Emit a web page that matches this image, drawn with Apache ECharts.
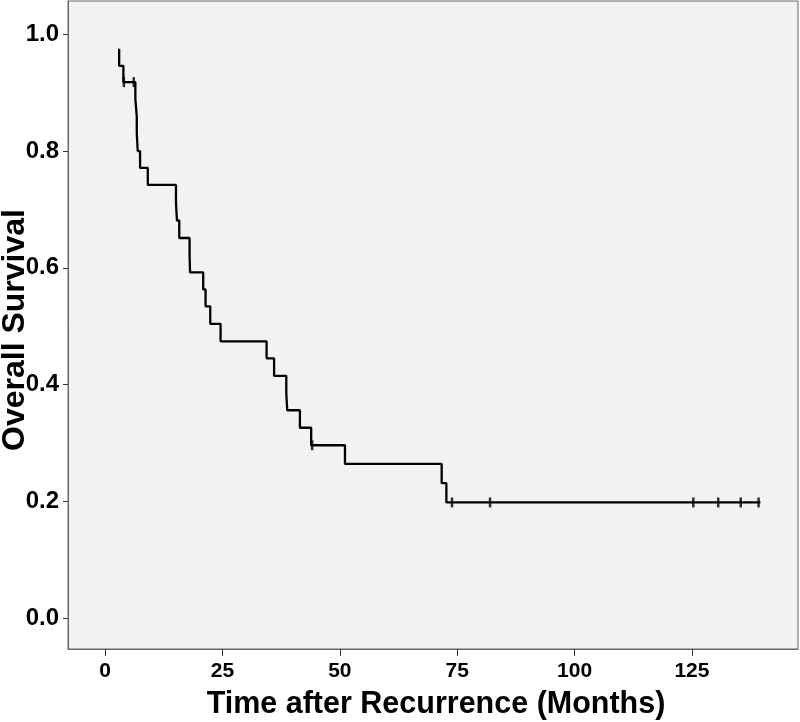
<!DOCTYPE html>
<html>
<head>
<meta charset="utf-8">
<script src="https://cdn.jsdelivr.net/npm/echarts@6/dist/echarts.min.js"></script>
<style>html,body{margin:0;padding:0;background:#fff;}#c{width:800px;height:722px;}</style>
</head>
<body>
<div id="c"></div>
<script>
// Kaplan-Meier curve data
var startTime = 3.0;
var startSurv = 0.975;
var eventTimes = [3.0, 3.9, 6.45, 6.75, 6.75, 6.95, 7.45, 9.1, 15.1, 15.3, 15.8, 18.0, 18.1, 20.9, 21.4, 22.4, 24.6, 34.4, 36.0, 38.6, 38.8, 41.5, 43.9, 51.1, 71.7, 72.7];
var survAfter = [0.946, 0.918, 0.889, 0.859, 0.830, 0.800, 0.771, 0.742, 0.712, 0.681, 0.651, 0.622, 0.592, 0.563, 0.534, 0.504, 0.474, 0.445, 0.415, 0.385, 0.356, 0.326, 0.296, 0.264, 0.231, 0.198];
var endTime = 139.6;
var censorTimes = [4.0, 6.1, 44.1, 73.9, 82.0, 125.3, 130.6, 135.4, 139.2];
var censorSurv = [0.918, 0.918, 0.296, 0.198, 0.198, 0.198, 0.198, 0.198, 0.198];
var xTicks = [0, 25, 50, 75, 100, 125];
var yTicks = [0, 0.2, 0.4, 0.6, 0.8, 1.0];

var stepPts = [[startTime, startSurv]];
var prev = startSurv;
for (var i = 0; i < eventTimes.length; i++) {
  stepPts.push([eventTimes[i], prev]);
  stepPts.push([eventTimes[i], survAfter[i]]);
  prev = survAfter[i];
}
stepPts.push([endTime, prev]);

var censorPts = censorTimes.map(function (t, i) { return [t, censorSurv[i]]; });

var chart = echarts.init(document.getElementById('c'));
chart.setOption({
  animation: false,
  grid: {
    left: 68, right: 2, top: 1, bottom: 73,
    outerBoundsMode: 'none', containLabel: false,
    show: true, backgroundColor: '#f2f2f2', borderColor: '#666', borderWidth: 1
  },
  xAxis: {
    type: 'value', min: -7.9, max: 147.6,
    name: 'Time after Recurrence (Months)', nameLocation: 'middle', nameGap: 40,
    nameTextStyle: { fontFamily: 'Liberation Sans', fontWeight: 'bold', fontSize: 30.5, color: '#000', verticalAlign: 'top', padding: [0, 0, 0, 6] },
    axisLine: { show: true, onZero: false, lineStyle: { color: '#666', width: 1 } },
    axisTick: { show: true, customValues: xTicks, length: 7, lineStyle: { color: '#333' } },
    axisLabel: { customValues: xTicks, margin: 12, fontFamily: 'Liberation Sans Narrow, Liberation Sans', fontWeight: 'bold', fontSize: 21, color: '#000' },
    splitLine: { show: false }
  },
  yAxis: {
    type: 'value', min: -0.053, max: 1.057,
    name: 'Overall Survival', nameLocation: 'middle', nameGap: 37, nameMoveOverlap: false,
    nameTextStyle: { fontFamily: 'Liberation Sans', fontWeight: 'bold', fontSize: 32, color: '#000', padding: [0, 10, 0, 0] },
    axisLine: { show: true, onZero: false, lineStyle: { color: '#666', width: 1 } },
    axisTick: { show: true, customValues: yTicks, length: 5, lineStyle: { color: '#333' } },
    axisLabel: { customValues: yTicks, margin: 9, fontFamily: 'Liberation Sans', fontWeight: 'bold', fontSize: 24, color: '#000',
      formatter: function (v) { return v.toFixed(1); } },
    splitLine: { show: false }
  },
  series: [
    {
      type: 'line', data: stepPts, showSymbol: false, symbol: 'none',
      lineStyle: { color: '#000', width: 2.3 }, z: 3
    },
    {
      type: 'scatter', data: censorPts, symbol: 'rect', symbolSize: [2.5, 10],
      itemStyle: { color: '#000' }, z: 4
    }
  ]
});
</script>
</body>
</html>
